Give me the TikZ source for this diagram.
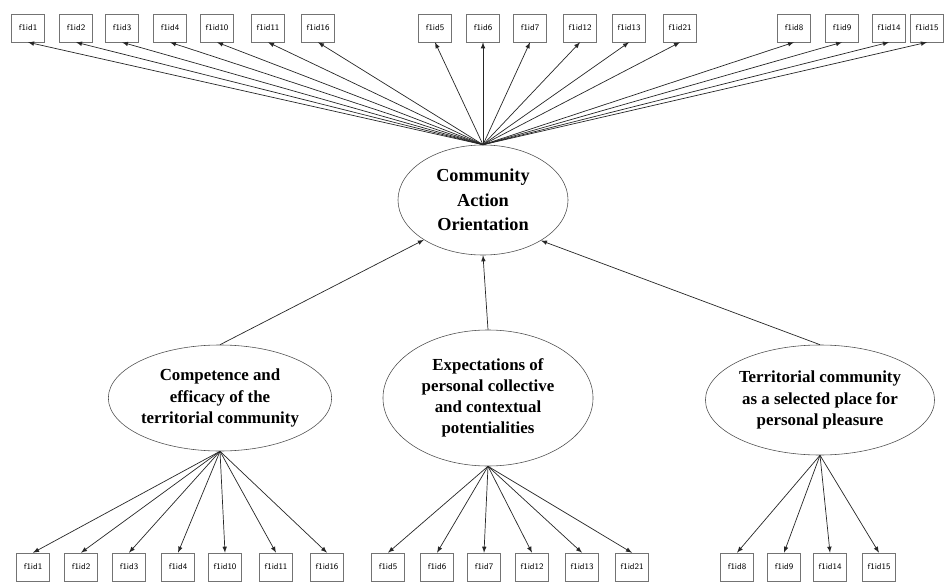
\documentclass[tikz,border=0pt]{standalone}
\usepackage{fontspec}
\setmainfont{Liberation Serif}
\usetikzlibrary{shapes.geometric}

\tikzset{
	item/.style={draw=black!55, rectangle, minimum width=0.82cm, minimum height=0.7cm, inner sep=0pt, font=\sffamily\fontsize{6}{7}\selectfont},
	factor/.style={draw=black!70, ellipse, inner sep=0pt, align=center, font=\bfseries\fontsize{12}{15}\selectfont},
	load/.style={->, >=latex, black!85, line width=0.5pt},
}

\begin{document}
\begin{tikzpicture}[x=0.025cm, y=-0.025cm]
	\useasboundingbox (0,0) rectangle (945,583);
	\begin{scope}
		% fattori
		\node[factor, minimum width=4.25cm, minimum height=2.75cm, font=\bfseries\fontsize{13}{17.5}\selectfont] (cao) at (483,200) {Community\\Action\\Orientation};
		\node[factor, minimum width=5.5cm, minimum height=2.65cm] (comp) at (220,398) {Competence and\\efficacy of the\\territorial community};
		\node[factor, minimum width=5.25cm, minimum height=3.4cm] (expe) at (488,398) {Expectations of\\personal collective\\and contextual\\potentialities};
		\node[factor, minimum width=5.6cm, minimum height=2.75cm] (terr) at (820,400) {Territorial community\\as a selected place for\\personal pleasure};

		% item in alto
		\node[item] (t1) at (28,28) {f1id1};
		\node[item] (t2) at (76,28) {f1id2};
		\node[item] (t3) at (122,28) {f1id3};
		\node[item] (t4) at (170,28) {f1id4};
		\node[item] (t10) at (217,28) {f1id10};
		\node[item] (t11) at (268,28) {f1id11};
		\node[item] (t16) at (318,28) {f1id16};
		\node[item] (t5) at (435,28) {f1id5};
		\node[item] (t6) at (483,28) {f1id6};
		\node[item] (t7) at (530,28) {f1id7};
		\node[item] (t12) at (580,28) {f1id12};
		\node[item] (t13) at (629,28) {f1id13};
		\node[item] (t21) at (680,28) {f1id21};
		\node[item] (t8) at (794,28) {f1id8};
		\node[item] (t9) at (842,28) {f1id9};
		\node[item] (t14) at (889,28) {f1id14};
		\node[item] (t15) at (927,28) {f1id15};

		% item in basso
		\node[item] (b1) at (33,567) {f1id1};
		\node[item] (b2) at (81,567) {f1id2};
		\node[item] (b3) at (129,567) {f1id3};
		\node[item] (b4) at (178,567) {f1id4};
		\node[item] (b10) at (225,567) {f1id10};
		\node[item] (b11) at (276,567) {f1id11};
		\node[item] (b16) at (327,567) {f1id16};
		\node[item] (b5) at (388,567) {f1id5};
		\node[item] (b6) at (437,567) {f1id6};
		\node[item] (b7) at (484,567) {f1id7};
		\node[item] (b12) at (532,567) {f1id12};
		\node[item] (b13) at (582,567) {f1id13};
		\node[item] (b21) at (632,567) {f1id21};
		\node[item] (b8) at (737,567) {f1id8};
		\node[item] (b9) at (784,567) {f1id9};
		\node[item] (b14) at (830,567) {f1id14};
		\node[item] (b15) at (879,567) {f1id15};

		% da cao agli item
		\draw[load] (cao.north) -- (t1.south);
		\draw[load] (cao.north) -- (t2.south);
		\draw[load] (cao.north) -- (t3.south);
		\draw[load] (cao.north) -- (t4.south);
		\draw[load] (cao.north) -- (t10.south);
		\draw[load] (cao.north) -- (t11.south);
		\draw[load] (cao.north) -- (t16.south);
		\draw[load] (cao.north) -- (t5.south);
		\draw[load] (cao.north) -- (t6.south);
		\draw[load] (cao.north) -- (t7.south);
		\draw[load] (cao.north) -- (t12.south);
		\draw[load] (cao.north) -- (t13.south);
		\draw[load] (cao.north) -- (t21.south);
		\draw[load] (cao.north) -- (t8.south);
		\draw[load] (cao.north) -- (t9.south);
		\draw[load] (cao.north) -- (t14.south);
		\draw[load] (cao.north) -- (t15.south);

		% dai fattori a cao
		\draw[load] (comp.north) -- (cao.214);
		\draw[load] (expe.north) -- (cao.south);
		\draw[load] (terr.north) -- (cao.325);

		% dai fattori agli item
		\draw[load] (comp.south) -- (b1.north);
		\draw[load] (comp.south) -- (b2.north);
		\draw[load] (comp.south) -- (b3.north);
		\draw[load] (comp.south) -- (b4.north);
		\draw[load] (comp.south) -- (b10.north);
		\draw[load] (comp.south) -- (b11.north);
		\draw[load] (comp.south) -- (b16.north);
		\draw[load] (expe.south) -- (b5.north);
		\draw[load] (expe.south) -- (b6.north);
		\draw[load] (expe.south) -- (b7.north);
		\draw[load] (expe.south) -- (b12.north);
		\draw[load] (expe.south) -- (b13.north);
		\draw[load] (expe.south) -- (b21.north);
		\draw[load] (terr.south) -- (b8.north);
		\draw[load] (terr.south) -- (b9.north);
		\draw[load] (terr.south) -- (b14.north);
		\draw[load] (terr.south) -- (b15.north);
	\end{scope}
\end{tikzpicture}
\end{document}
